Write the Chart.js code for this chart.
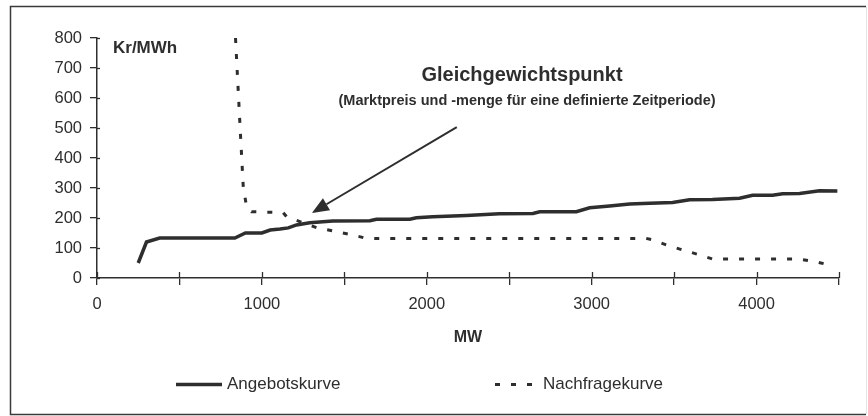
<!DOCTYPE html>
<html>
<head>
<meta charset="utf-8">
<script src="https://cdn.jsdelivr.net/npm/chart.js@4/dist/chart.umd.min.js"></script>
<style>
  html, body { margin: 0; padding: 0; background: #ffffff; }
  #wrap { width: 868px; height: 416px; position: relative; }
</style>
</head>
<body>
<div id="wrap"><canvas id="c" width="868" height="416"></canvas></div>
<script>
// ---- Data ----
const seriesNames = ['Angebotskurve', 'Nachfragekurve'];
const supplyMW    = [250, 300, 380, 836, 900, 1000, 1050, 1110, 1160, 1210, 1290, 1430, 1655, 1695, 1897, 1937, 2036, 2240, 2440, 2644, 2685, 2907, 2988, 3109, 3230, 3352, 3491, 3594, 3733, 3897, 3976, 4097, 4158, 4261, 4382, 4490];
const supplyPrice = [50, 120, 133, 133, 150, 150, 160, 163, 167, 177, 184, 190, 191, 196, 196, 201, 204, 208, 214, 215, 221, 221, 234, 240, 247, 249, 252, 261, 262, 266, 276, 276, 281, 282, 291, 290];
const demandMW    = [840, 870, 887, 907, 937, 1129, 1150, 1230, 1341, 1433, 1554, 1634, 3331, 3370, 3453, 3555, 3655, 3735, 4261, 4362, 4464];
const demandPrice = [800, 480, 304, 238, 221, 218, 204, 188, 166, 157, 143, 132, 132, 127, 110, 93, 77, 63, 63, 54, 40];
const xTickLabels = [0, 1000, 2000, 3000, 4000];
const yAxisTitle = 'Kr/MWh';
const xAxisTitle = 'MW';
const annotationTitle = 'Gleichgewichtspunkt';
const annotationSubtitle = '(Marktpreis und -menge für eine definierte Zeitperiode)';
// arrow in data coordinates: from (MW, price) to (MW, price)
const arrowFrom = [2182, 503];
const arrowTo   = [1303, 217];

const INK = '#2e2e2e';
const FONT = "'Liberation Sans', Arial, Helvetica, sans-serif";

const toPts = (xs, ys) => xs.map((x, i) => ({x: x, y: ys[i]}));

const decorPlugin = {
  id: 'decor',
  beforeDraw(chart) {
    const ctx = chart.ctx;
    ctx.save();
    ctx.fillStyle = '#ffffff';
    ctx.fillRect(0, 0, chart.width, chart.height);
    ctx.restore();
  },
  afterDraw(chart) {
    const ctx = chart.ctx;
    const xs = chart.scales.x, ys = chart.scales.y;
    ctx.save();
    // frame
    ctx.strokeStyle = '#3a3a3a';
    ctx.lineWidth = 1.5;
    ctx.beginPath();
    ctx.moveTo(866, 6.5); ctx.lineTo(10.5, 6.5); ctx.lineTo(10.5, 414.5); ctx.lineTo(866, 414.5);
    ctx.stroke();
    ctx.strokeStyle = '#e4e4e4';
    ctx.lineWidth = 1;
    ctx.beginPath(); ctx.moveTo(866.5, 6.5); ctx.lineTo(866.5, 414.5); ctx.stroke();

    // inner parts of crossing tick marks
    ctx.strokeStyle = INK;
    ctx.lineWidth = 1.3;
    xs.ticks.forEach(t => {
      const px = Math.round(xs.getPixelForValue(t.value)) + 0.5;
      ctx.beginPath(); ctx.moveTo(px, ys.bottom); ctx.lineTo(px, ys.bottom - 6); ctx.stroke();
    });
    ys.ticks.forEach(t => {
      const py = Math.round(ys.getPixelForValue(t.value)) + 0.5;
      ctx.beginPath(); ctx.moveTo(xs.left, py); ctx.lineTo(xs.left + 3, py); ctx.stroke();
    });

    // y-axis unit label
    ctx.fillStyle = INK;
    ctx.font = "bold 17px " + FONT;
    ctx.textAlign = 'left';
    ctx.textBaseline = 'alphabetic';
    ctx.fillText(yAxisTitle, 113, 53);

    // annotation texts
    ctx.textAlign = 'center';
    ctx.font = "bold 20px " + FONT;
    ctx.fillText(annotationTitle, 522, 81);
    ctx.font = "bold 14.5px " + FONT;
    ctx.fillText(annotationSubtitle, 527, 105);

    // arrow
    const x1 = xs.getPixelForValue(arrowFrom[0]), y1 = ys.getPixelForValue(arrowFrom[1]);
    const x2 = xs.getPixelForValue(arrowTo[0]),   y2 = ys.getPixelForValue(arrowTo[1]);
    const ang = Math.atan2(y2 - y1, x2 - x1);
    const headLen = 17, headW = 7;
    const bx = x2 - headLen * Math.cos(ang), by = y2 - headLen * Math.sin(ang);
    ctx.strokeStyle = INK;
    ctx.lineWidth = 2;
    ctx.beginPath(); ctx.moveTo(x1, y1); ctx.lineTo(bx, by); ctx.stroke();
    ctx.fillStyle = INK;
    ctx.beginPath();
    ctx.moveTo(x2, y2);
    ctx.lineTo(bx + headW * Math.sin(ang), by - headW * Math.cos(ang));
    ctx.lineTo(bx - headW * Math.sin(ang), by + headW * Math.cos(ang));
    ctx.closePath(); ctx.fill();

    // legend (drawn from dataset styles)
    const legendPos = [[176, 222], [495, 533]];
    const legendY = 384.5;
    chart.data.datasets.forEach((ds, i) => {
      const [a, b] = legendPos[i];
      ctx.strokeStyle = ds.borderColor;
      ctx.lineWidth = ds.borderWidth;
      ctx.setLineDash(ds.borderDash || []);
      ctx.beginPath(); ctx.moveTo(a, legendY); ctx.lineTo(b, legendY); ctx.stroke();
      ctx.setLineDash([]);
      ctx.fillStyle = INK;
      ctx.font = "17px " + FONT;
      ctx.textAlign = 'left';
      ctx.textBaseline = 'middle';
      ctx.fillText(ds.label, b + (i === 0 ? 5 : 10), legendY);
    });
    ctx.restore();
  }
};

new Chart(document.getElementById('c'), {
  type: 'line',
  data: {
    datasets: [
      {
        label: seriesNames[0],
        data: toPts(supplyMW, supplyPrice),
        borderColor: INK,
        borderWidth: 3.5,
        pointRadius: 0,
        tension: 0,
        fill: false
      },
      {
        label: seriesNames[1],
        data: toPts(demandMW, demandPrice),
        borderColor: INK,
        borderWidth: 3,
        borderDash: [5, 11],
        borderCapStyle: 'butt',
        pointRadius: 0,
        tension: 0,
        fill: false
      }
    ]
  },
  options: {
    responsive: false,
    animation: false,
    devicePixelRatio: 1,
    layout: { padding: { left: 0, right: 29, top: 38, bottom: 0 } },
    plugins: {
      legend: { display: false },
      tooltip: { enabled: false },
      title: { display: false }
    },
    scales: {
      x: {
        type: 'linear',
        min: 0, max: 4500,
        afterFit: s => { s.height = 138; },
        afterBuildTicks: s => {
          const t = [];
          for (let v = 0; v <= 4500; v += 500) t.push({value: v});
          s.ticks = t;
        },
        ticks: {
          autoSkip: false,
          maxRotation: 0,
          padding: 10,
          color: INK,
          font: { family: FONT, size: 16.5 },
          callback: v => xTickLabels.includes(v) ? String(v) : ''
        },
        grid: { drawOnChartArea: false, drawTicks: true, tickLength: 7, color: INK, lineWidth: 1.3 },
        border: { display: true, color: INK, width: 1.5 },
        title: {
          display: true, text: xAxisTitle, color: INK,
          font: { family: FONT, size: 16, weight: 'bold' },
          padding: { top: 4, bottom: 69 }
        }
      },
      y: {
        min: 0, max: 800,
        afterFit: s => { s.width = 97; },
        ticks: {
          stepSize: 100,
          padding: 8,
          color: INK,
          font: { family: FONT, size: 16.5 }
        },
        grid: { drawOnChartArea: false, drawTicks: true, tickLength: 7, color: INK, lineWidth: 1.3 },
        border: { display: true, color: INK, width: 1.5 }
      }
    }
  },
  plugins: [decorPlugin]
});
</script>
</body>
</html>
